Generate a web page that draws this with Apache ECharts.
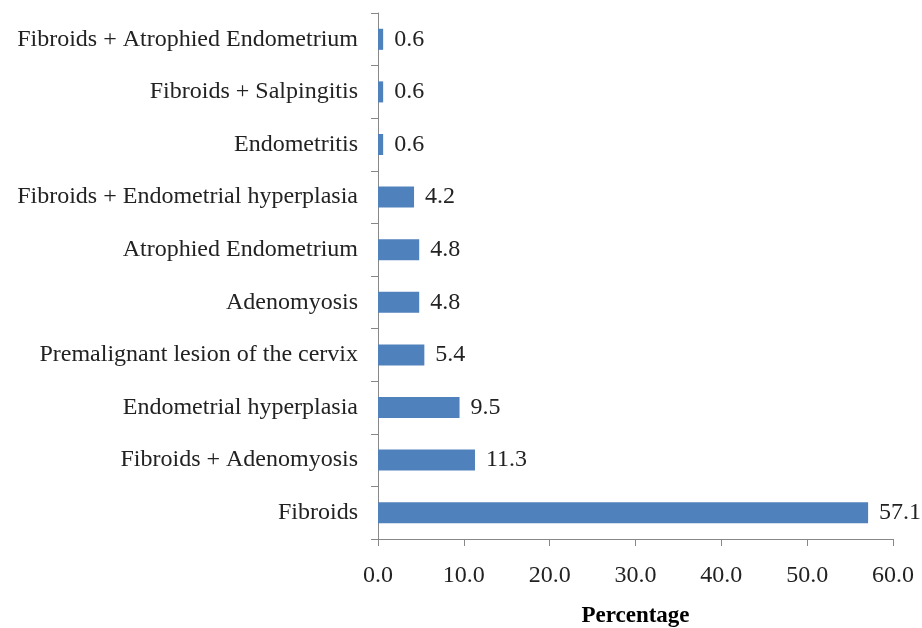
<!DOCTYPE html>
<html>
<head>
<meta charset="utf-8">
<script src="https://cdn.jsdelivr.net/npm/echarts@6/dist/echarts.min.js"></script>
<style>
  html, body { margin: 0; padding: 0; background: #fff; }
  #chart { width: 922px; height: 628px; }
</style>
</head>
<body>
<div id="chart"></div>
<script>
// bottom to top
var categories = [
  'Fibroids',
  'Fibroids + Adenomyosis',
  'Endometrial hyperplasia',
  'Premalignant lesion of the cervix',
  'Adenomyosis',
  'Atrophied Endometrium',
  'Fibroids + Endometrial hyperplasia',
  'Endometritis',
  'Fibroids + Salpingitis',
  'Fibroids + Atrophied Endometrium'
];
var percentages = [57.1, 11.3, 9.5, 5.4, 4.8, 4.8, 4.2, 0.6, 0.6, 0.6];

var font = '"Liberation Serif", "Times New Roman", serif';
var chart = echarts.init(document.getElementById('chart'));

chart.setOption({
  animation: false,
  grid: { left: 378, right: 29, top: 13, bottom: 89, containLabel: false, outerBoundsMode: 'none' },
  xAxis: {
    type: 'value',
    min: 0,
    max: 60,
    interval: 10,
    name: 'Percentage',
    nameLocation: 'middle',
    nameGap: 66,
    nameTextStyle: { fontFamily: font, fontSize: 23, fontWeight: 'bold', color: '#000' },
    axisLine: { show: true, lineStyle: { color: '#888', width: 1 } },
    axisTick: { show: true, length: 7, lineStyle: { color: '#888' } },
    axisLabel: {
      fontFamily: font, fontSize: 24, color: '#222', margin: 25,
      formatter: function (v) { return v.toFixed(1); }
    },
    splitLine: { show: false }
  },
  yAxis: {
    type: 'category',
    data: categories,
    axisLine: { show: true, lineStyle: { color: '#888', width: 1 } },
    axisTick: { show: true, length: 7, lineStyle: { color: '#888' } },
    axisLabel: { fontFamily: font, fontSize: 24, color: '#222', margin: 20 }
  },
  series: [{
    type: 'bar',
    data: percentages,
    barWidth: '40%',
    itemStyle: { color: '#4F81BD' },
    label: {
      show: true,
      position: 'right',
      distance: 11,
      fontFamily: font,
      fontSize: 24,
      color: '#222',
      formatter: function (p) { return p.value.toFixed(1); }
    }
  }]
});
</script>
</body>
</html>
